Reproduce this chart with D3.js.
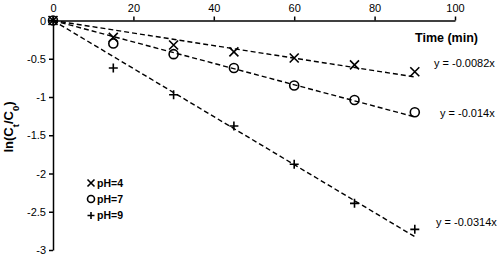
<!DOCTYPE html>
<html>
<head>
<meta charset="utf-8">
<script src="https://cdn.jsdelivr.net/npm/d3@7"></script>
<style>
  body { margin: 0; background: #fff; }
  text { font-family: "Liberation Sans", Arial, sans-serif; }
</style>
</head>
<body>
<script>
// time points (min)
var times = [0, 15, 30, 45, 60, 75, 90];
// ln(Ct/C0) for each pH
var ph4 = [0, -0.22, -0.32, -0.41, -0.49, -0.58, -0.67];
var ph7 = [0, -0.30, -0.44, -0.62, -0.85, -1.04, -1.20];
var ph9 = [0, -0.62, -0.97, -1.38, -1.88, -2.39, -2.73];
// fitted slopes
var slopes = [-0.0082, -0.014, -0.0314];
var fitLabels = ["y = -0.0082x", "y = -0.014x", "y = -0.0314x"];
var legendLabels = ["pH=4", "pH=7", "pH=9"];
var xTicks = [0, 20, 40, 60, 80, 100];
var yTicks = [0, -0.5, -1, -1.5, -2, -2.5, -3];

var width = 500, height = 255;
var svg = d3.select("body").append("svg")
    .attr("width", width)
    .attr("height", height);

var x = d3.scaleLinear().domain([0, 100]).range([53, 455]);
var y = d3.scaleLinear().domain([0, -3]).range([20.5, 250]);

// axes
var xAxis = svg.append("g")
    .attr("transform", "translate(0," + y(0) + ")")
    .call(d3.axisTop(x).tickValues(xTicks).tickSize(4).tickSizeOuter(0));
var yAxis = svg.append("g")
    .attr("transform", "translate(" + x(0) + ",0)")
    .call(d3.axisLeft(y).tickValues(yTicks).tickSize(4).tickSizeOuter(0)
        .tickFormat(function(d) { return d === 0 ? "0" : String(d); }));

[xAxis, yAxis].forEach(function(a) {
    a.selectAll("path, line").attr("stroke", "#000").attr("stroke-width", 1.5);
    a.selectAll("text").attr("font-size", 11).attr("fill", "#000")
        .style("font-family", "'Liberation Sans', Arial, sans-serif");
});
xAxis.selectAll("text").attr("dy", "-0.1em");

// fit lines
var series = [ph4, ph7, ph9];
slopes.forEach(function(m) {
    svg.append("line")
        .attr("x1", x(0)).attr("y1", y(0))
        .attr("x2", x(90)).attr("y2", y(m * 90))
        .attr("stroke", "#000")
        .attr("stroke-width", 1.4)
        .attr("stroke-dasharray", "5,3");
});

// markers
function drawMarker(g, kind, cx, cy, s) {
    if (kind === 0) {
        g.append("path")
            .attr("d", "M" + (cx - s) + "," + (cy - s) + "L" + (cx + s) + "," + (cy + s) +
                       "M" + (cx - s) + "," + (cy + s) + "L" + (cx + s) + "," + (cy - s))
            .attr("stroke", "#000").attr("stroke-width", 1.6).attr("fill", "none");
    } else if (kind === 1) {
        g.append("circle").attr("cx", cx).attr("cy", cy).attr("r", s)
            .attr("stroke", "#000").attr("stroke-width", 1.6).attr("fill", "none");
    } else {
        g.append("path")
            .attr("d", "M" + (cx - s) + "," + cy + "L" + (cx + s) + "," + cy +
                       "M" + cx + "," + (cy - s) + "L" + cx + "," + (cy + s))
            .attr("stroke", "#000").attr("stroke-width", 1.6).attr("fill", "none");
    }
}

var marks = svg.append("g");
series.forEach(function(vals, k) {
    vals.forEach(function(v, i) {
        drawMarker(marks, k, x(times[i]), y(v), 4.5);
    });
});

// fit equations
var eqX = [434, 440, 436];
var eqY = [63, 113, 222];
fitLabels.forEach(function(t, k) {
    svg.append("text")
        .attr("x", eqX[k])
        .attr("y", eqY[k])
        .attr("dy", "0.35em")
        .attr("font-size", 11)
        .text(t);
});

// axis titles
svg.append("text")
    .attr("x", 478).attr("y", 38)
    .attr("dy", "0.35em")
    .attr("text-anchor", "end")
    .attr("font-size", 12.5)
    .attr("font-weight", "bold")
    .text("Time (min)");

var yl = svg.append("text")
    .attr("transform", "translate(13,127) rotate(-90)")
    .attr("text-anchor", "middle")
    .attr("font-size", 13)
    .attr("font-weight", "bold");
yl.append("tspan").text("ln(C");
yl.append("tspan").attr("baseline-shift", "sub").attr("font-size", 9.5).text("t");
yl.append("tspan").text("/C");
yl.append("tspan").attr("baseline-shift", "sub").attr("font-size", 9.5).text("0");
yl.append("tspan").text(")");

// legend
var legY = [183, 199, 215.5];
legendLabels.forEach(function(t, k) {
    drawMarker(svg, k, 91, legY[k], 3.5);
    svg.append("text")
        .attr("x", 97).attr("y", legY[k])
        .attr("dy", "0.35em")
        .attr("font-size", 10.5)
        .attr("font-weight", "bold")
        .text(t);
});
</script>
</body>
</html>
